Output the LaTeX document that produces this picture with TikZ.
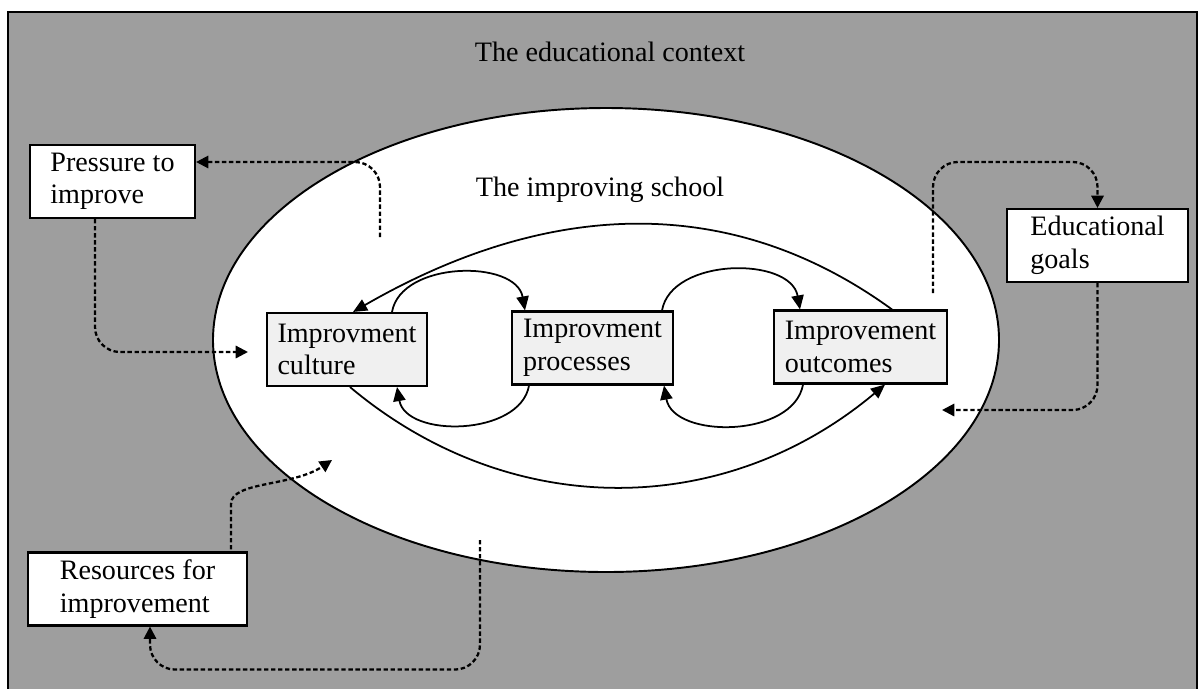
\documentclass[tikz,border=0pt]{standalone}
\usepackage{fontspec}
\setmainfont{Liberation Serif}
\usetikzlibrary{arrows.meta, calc}

\tikzset{
	outerbox/.style={draw, line width=1.2pt, fill=white, align=left, minimum height=1.46cm},
	innerbox/.style={outerbox, fill=gray!12, inner sep=2pt},
	link/.style={line width=1pt, -{Triangle[length=8pt, width=7pt]}},
	feed/.style={line width=1.3pt, dash pattern=on 2.5pt off 1.5pt, rounded corners=0.5cm, -{Triangle[length=7pt, width=7pt]}},
}

\begin{document}
\begin{tikzpicture}[font=\fontsize{16}{18.5}\selectfont]
	\clip (0, 0) rectangle (24, -13.76);
	% context and school
	\fill[black!38] (0.16, -0.24) rectangle (23.94, -14);
	\draw[line width=1.2pt] (0.16, -14) |- (23.94, -0.24) -- (23.94, -14);
	\draw[line width=1.1pt, fill=white] (12.12, -6.8) ellipse [x radius=7.86cm, y radius=4.64cm];
	\node (ctx) at (12.2, -1.04) {The educational context};
	\node (school) at (12.0, -3.8) {The improving school};

	\node[outerbox, minimum width=3.3cm] (press) at (2.25, -3.63) {Pressure to\\improve};
	\node[innerbox, minimum width=3.2cm] (culture) at (6.94, -6.99) {Improvment\\culture};
	\node[innerbox, minimum width=3.22cm] (process) at (11.85, -6.96) {Improvment\\processes};
	\node[innerbox, minimum width=3.46cm] (outcome) at (17.21, -6.94) {Improvement\\outcomes};
	\node[outerbox, minimum width=3.62cm] (goals) at (21.95, -4.91) {Educational\\goals};
	\node[outerbox, minimum width=4.38cm] (resource) at (2.75, -11.78) {Resources for\\improvement};

	% the improvement cycle
	\draw[link] ($(outcome.north)+(0.63, 0)$) to[out=144, in=30] ($(culture.north)+(0.12, 0)$);
	\draw[link] ($(culture.south)+(0.06, 0)$) to[out=-40, in=-140] ($(outcome.south)+(0.49, 0)$);
	\draw[link] ($(culture.north)+(0.9, 0)$) to[out=80, in=100] ($(process.north)+(-1.35, 0)$);
	\draw[link] ($(process.south)+(-1.27, 0)$) to[out=-100, in=-80] ($(culture.south)+(1.0, 0)$);
	\draw[link] ($(process.north)+(1.39, 0)$) to[out=80, in=100] ($(outcome.north)+(-1.21, 0)$);
	\draw[link] ($(outcome.south)+(-1.15, 0)$) to[out=-100, in=-80] ($(process.south)+(1.43, 0)$);

	% links with the context
	\coordinate (p1) at (7.6, -4.74);
	\coordinate (c2) at (4.96, -7.04);
	\coordinate (o1) at (18.66, -5.86);
	\coordinate (o2) at (18.84, -8.2);
	\coordinate (r1) at (6.64, -9.2);
	\coordinate (r2) at (9.6, -10.8);
	\draw[feed] (p1) |- ($(press.east)+(0, 0.39)$);
	\draw[feed] ($(press.south)+(-0.35, 0)$) |- (c2);
	\draw[feed] (o1) |- ($(goals.north)+(0, 0.92)$) -- (goals.north);
	\draw[feed] (goals.south) |- (o2);
	\draw[feed] ($(resource.north east)+(-0.34, 0)$) -- ++(0, 0.45) to[out=90, in=-146] (r1);
	\draw[feed] (r2) |- ($(resource.south)+(0.25, -0.86)$) -- ($(resource.south)+(0.25, 0)$);
\end{tikzpicture}
\end{document}
